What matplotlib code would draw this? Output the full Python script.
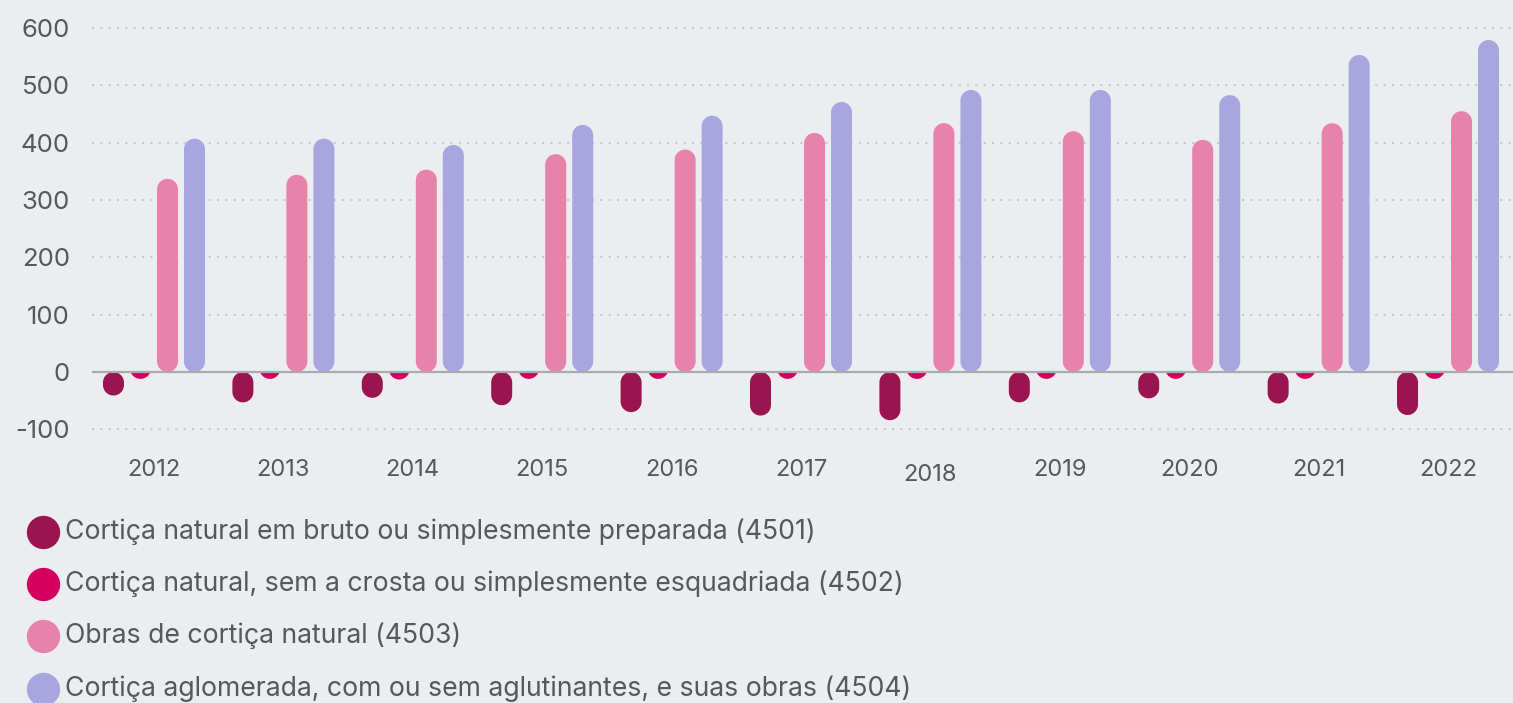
import matplotlib as mpl

mpl.use("Agg")

import matplotlib.pyplot as plt
import numpy as np
from matplotlib.lines import Line2D
from matplotlib.patches import Polygon, Rectangle
from matplotlib.transforms import blended_transform_factory

# --- data ---
years = ["2012", "2013", "2014", "2015", "2016", "2017", "2018", "2019", "2020", "2021", "2022"]
cortica_bruto_4501 = [-41, -53, -45, -58, -70, -76, -84, -53, -46, -55, -75]
cortica_sem_crosta_4502 = [-12, -12, -13, -12, -12, -12, -12, -12, -12, -12, -12]
obras_natural_4503 = [337, 344, 353, 380, 388, 417, 434, 420, 405, 434, 455]
aglomerada_4504 = [407, 407, 396, 431, 447, 471, 492, 492, 483, 553, 579]

labels = [
    "Cortiça natural em bruto ou simplesmente preparada (4501)",
    "Cortiça natural, sem a crosta ou simplesmente esquadriada (4502)",
    "Obras de cortiça natural (4503)",
    "Cortiça aglomerada, com ou sem aglutinantes, e suas obras (4504)",
]
colors = ["#9A1450", "#D5005E", "#E782AB", "#A9A5DF"]

BG = "#ECEDF1"
TXT = "#54595D"
W, H = 1513, 703

plt.rcParams["font.family"] = ["Inter", "DejaVu Sans"]
plt.rcParams["axes.unicode_minus"] = False

fig = plt.figure(figsize=(W / 100, H / 100), dpi=100, facecolor=BG)

# axes placed in pixels: zero line at y=372 px from top, 57.33 px per 100
ymin, ymax = -112, 610
px_per_unit = 0.5733
top_px = 372 - ymax * px_per_unit
bot_px = 372 - ymin * px_per_unit
ax = fig.add_axes([92 / W, 1 - bot_px / H, 1 - 92 / W, (bot_px - top_px) / H])
ax.set_facecolor(BG)
ax.set_xlim(-0.479, len(years) - 1 + 0.502)
ax.set_ylim(ymin, ymax)

for s in ax.spines.values():
    s.set_visible(False)

ax.set_yticks(range(-100, 601, 100))
ax.tick_params(axis="y", length=0, pad=16, labelsize=18.5, labelcolor=TXT)
ax.set_xticks([])
for v in range(-100, 601, 100):
    if v != 0:
        ax.axhline(v, color="#C6C8CD", lw=1.5, ls=(0, (1, 3)), zorder=0)
ax.axhline(0, color="#AAABAE", lw=1.6, zorder=3)

# rounded bars (stadium shapes) -- radius in data units from the pixel scale
series = [cortica_bruto_4501, cortica_sem_crosta_4502, obras_natural_4503, aglomerada_4504]
pitch = 0.2087
rx = 10.5 / 129.4
p0 = ax.transData.transform((0, 0))
p1 = ax.transData.transform((0, 100))
ry = 10.5 * 100 / (p1[1] - p0[1])
t = np.linspace(0, np.pi, 30)


def stadium(xc, lo, hi):
    top = np.column_stack([xc + rx * np.cos(t), hi - ry + ry * np.sin(t)])
    bot = np.column_stack([xc - rx * np.cos(t), lo + ry - ry * np.sin(t)])
    return np.vstack([top, bot])


for k, (vals, c) in enumerate(zip(series, colors)):
    off = (k - 1.5) * pitch
    for i, v in enumerate(vals):
        xc = i + off
        if v >= 0:
            lo, hi = min(0, v - 2 * ry), v
            clip = Rectangle((xc - 1, 0), 2, 1000, transform=ax.transData)
        else:
            lo, hi = v, max(0, v + 2 * ry)
            clip = Rectangle((xc - 1, -1000), 2, 1000, transform=ax.transData)
        poly = Polygon(stadium(xc, lo, hi), closed=True, facecolor=c, edgecolor="none", zorder=2)
        ax.add_patch(poly)
        poly.set_clip_path(clip)

# year labels (2018 sits a bit lower in the original)
tr = blended_transform_factory(ax.transData, fig.transFigure)
for i, y in enumerate(years):
    ypx = 475 if y == "2018" else 470
    ax.text(i, 1 - ypx / H, y, transform=tr, ha="center", va="center",
            fontsize=17, color=TXT, clip_on=False)

# legend
leg_y = [532, 584, 636, 689]
for lab, c, ypx in zip(labels, colors, leg_y):
    fig.add_artist(Line2D([43 / W], [1 - ypx / H], marker="o", markersize=24,
                          markerfacecolor=c, markeredgecolor="none", linestyle="none",
                          transform=fig.transFigure))
    fig.text(65 / W, 1 - ypx / H, lab, ha="left", va="center", fontsize=19.2, color=TXT)

fig.savefig("out.png", dpi=100, facecolor=BG)
